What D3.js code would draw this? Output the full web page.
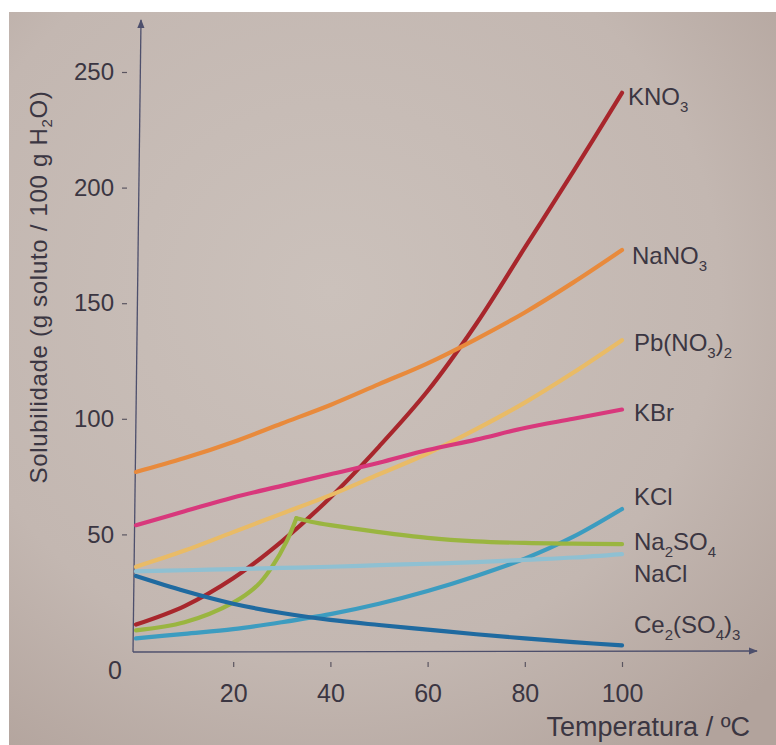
<!DOCTYPE html>
<html><head><meta charset="utf-8">
<script src="https://cdn.jsdelivr.net/npm/d3@7"></script>
<style>html,body{margin:0;padding:0;background:#fff;}svg{display:block;}</style>
</head><body>
<script>
// ---- data ----
const temps = [0,10,20,30,40,50,60,70,80,90,100];
const KNO3   = [11,19,31,47,66,88,112,141,174,207,241];
const NaNO3  = [77,83,90,98,106,115,124,134.5,146,159,173];
const PbNO32 = [36,43,51,59,67,76,85,95.5,107,120,134];
const KBr    = [54,60,66,71,76,81,86.5,91,96,100,104];
const KCl    = [5,7,9,12,15.5,20,25.5,32,39.5,49,61];
const NaCl   = [34,34.5,35,35.5,36,36.7,37.3,38,39,40,41.5];
const Ce2SO43= [32,25.5,20,16,13,10.8,8.8,6.8,5,3.4,2];
const tempsNa2SO4 = [0,10,20,25,28,31,33,36,40,50,60,70,80,90,100];
const Na2SO4 = [8.5,12,20.5,28,36,47,57,55.5,54,51,48.5,47,46.3,46,45.8];

const seriesNames = ["KNO3","NaNO3","Pb(NO3)2","KBr","KCl","Na2SO4","NaCl","Ce2(SO4)3"];
const xTicks = [20,40,60,80,100];
const yTicks = [50,100,150,200,250];
const zeroLabel = "0";
const xTitle = "Temperatura / ºC";

// ---- layout ----
const W = 776, H = 745;
const svg = d3.select("body").append("svg").attr("width", W).attr("height", H);
const defs = svg.append("defs");
const rg = defs.append("radialGradient").attr("id","paper").attr("cx","42%").attr("cy","38%").attr("r","78%");
rg.append("stop").attr("offset","0%").attr("stop-color","#cbc1bb");
rg.append("stop").attr("offset","65%").attr("stop-color","#c3b7b1");
rg.append("stop").attr("offset","100%").attr("stop-color","#b2a39c");
svg.append("rect").attr("width",W).attr("height",H).attr("fill","#fff");
svg.append("rect").attr("x",9).attr("y",12).attr("width",W-9).attr("height",H-12).attr("fill","url(#paper)");

const x = d3.scaleLinear().domain([0,100]).range([136,622]);
const y = d3.scaleLinear().domain([0,250]).range([650,72]);

const ink = "#3b3642";
const axisCol = "#4d4f6c";
const font = "'Liberation Sans', Arial, sans-serif";

// axis lines with arrows
const m = defs.append("marker").attr("id","arr").attr("viewBox","0 0 10 10").attr("refX",9).attr("refY",5)
  .attr("markerWidth",7).attr("markerHeight",7).attr("orient","auto");
m.append("path").attr("d","M0,1 L10,5 L0,9 Z").attr("fill",axisCol);
svg.append("line").attr("x1",x(0)-3).attr("y1",y(0)+2).attr("x2",x(0)+5).attr("y2",20)
  .attr("stroke",axisCol).attr("stroke-width",1.3).attr("marker-end","url(#arr)");
svg.append("line").attr("x1",x(0)-3).attr("y1",y(0)+2).attr("x2",757).attr("y2",y(0)+1)
  .attr("stroke",axisCol).attr("stroke-width",1.3).attr("marker-end","url(#arr)");

// y axis ticks
const gy = svg.append("g").attr("transform","translate(127,0)")
  .call(d3.axisLeft(y).tickValues(yTicks).tickSize(5).tickPadding(8));
gy.select(".domain").remove();
gy.selectAll("line").attr("stroke","#5a5560").attr("stroke-width",1.2);
gy.selectAll("text").attr("font-family",font).attr("font-size",24).attr("fill",ink);

// x axis ticks
const gx = svg.append("g").attr("transform","translate(0,662)")
  .call(d3.axisBottom(x).tickValues(xTicks).tickSize(5).tickPadding(17));
gx.select(".domain").remove();
gx.selectAll("line").attr("stroke","#5a5560").attr("stroke-width",1.2);
gx.selectAll("text").attr("font-family",font).attr("font-size",25).attr("fill",ink);

// zero label
svg.append("text").attr("x",115).attr("y",679).attr("text-anchor","middle")
  .attr("font-family",font).attr("font-size",25).attr("fill",ink).text(zeroLabel);

// axis titles
const yt = svg.append("text").attr("transform","translate(47,287) rotate(-90)").attr("text-anchor","middle")
  .attr("font-family",font).attr("font-size",24).attr("letter-spacing",0.7).attr("fill",ink);
yt.append("tspan").text("Solubilidade (g soluto / 100 g H");
yt.append("tspan").attr("font-size",15).attr("dy",5).text("2");
yt.append("tspan").attr("dy",-5).text("O)");
svg.append("text").attr("x",750).attr("y",736).attr("text-anchor","end")
  .attr("font-family",font).attr("font-size",27).attr("fill",ink).text(xTitle);

// ---- series ----
const series = [
  {name:seriesNames[0], t:temps, v:KNO3,   color:"#a8262c", lab:[["KNO",0],["3",1]], dx:-4, dy:4},
  {name:seriesNames[1], t:temps, v:NaNO3,  color:"#e88a3c", lab:[["NaNO",0],["3",1]], dx:0, dy:6},
  {name:seriesNames[2], t:temps, v:PbNO32, color:"#e9bb66", lab:[["Pb(NO",0],["3",1],[")",0],["2",1]], dx:2, dy:3},
  {name:seriesNames[3], t:temps, v:KBr,    color:"#d8387c", lab:[["KBr",0]], dx:2, dy:3},
  {name:seriesNames[4], t:temps, v:KCl,    color:"#3c9cc0", lab:[["KCl",0]], dx:2, dy:-12},
  {name:seriesNames[5], t:tempsNa2SO4, v:Na2SO4, color:"#9ab540", lab:[["Na",0],["2",1],["SO",0],["4",1]], dx:2, dy:-2},
  {name:seriesNames[6], t:temps, v:NaCl,   color:"#8fc0d2", lab:[["NaCl",0]], dx:2, dy:20},
  {name:seriesNames[7], t:temps, v:Ce2SO43,color:"#1f6aa0", lab:[["Ce",0],["2",1],["(SO",0],["4",1],[")",0],["3",1]], dx:2, dy:-20}
];

const line = d3.line().x(d=>x(d[0])).y(d=>y(d[1])).curve(d3.curveCatmullRom.alpha(0.5));
const gl = svg.append("g");
series.forEach(s => {
  const pts = s.t.map((t,i)=>[t,s.v[i]]);
  // split at maximum for cusp curves (Na2SO4)
  const iMax = d3.maxIndex(s.v);
  const pieces = (iMax>0 && iMax<pts.length-1) ? [pts.slice(0,iMax+1), pts.slice(iMax)] : [pts];
  pieces.forEach(p => {
    gl.append("path").attr("d", line(p)).attr("fill","none").attr("stroke",s.color)
      .attr("stroke-width",4.2).attr("stroke-linecap","round").attr("stroke-linejoin","round");
  });
  const last = pts[pts.length-1];
  const t = svg.append("text").attr("x", x(last[0])+10+s.dx).attr("y", y(last[1])+s.dy+8)
    .attr("font-family",font).attr("font-size",24).attr("fill",ink);
  let prevSub = false;
  s.lab.forEach(([str,sub]) => {
    if(sub){ t.append("tspan").attr("font-size",15).attr("dy",7).text(str); prevSub = true; }
    else { t.append("tspan").attr("dy", prevSub ? -7 : 0).text(str); prevSub = false; }
  });
});
</script>
</body></html>
